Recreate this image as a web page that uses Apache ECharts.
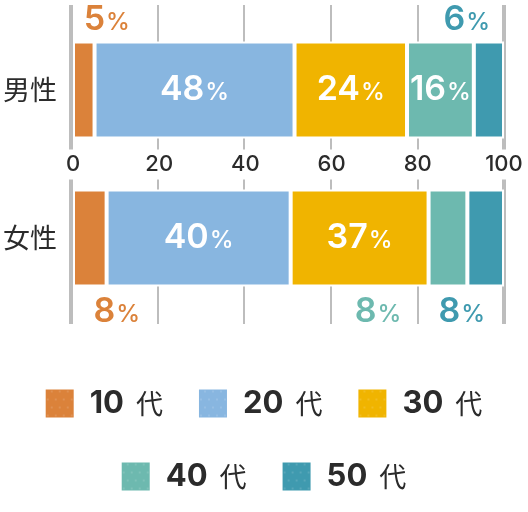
<!DOCTYPE html>
<html>
<head>
<meta charset="utf-8">
<style>
  html, body { margin: 0; padding: 0; background: #fff; }
  #main { width: 528px; height: 512px; }
</style>
<script src="https://cdn.jsdelivr.net/npm/echarts@6/dist/echarts.min.js"></script>
</head>
<body>
<div id="main"></div>
<script>
var genders = ['男性', '女性'];
var ages = ['10代', '20代', '30代', '40代', '50代'];
var colors = ['#DB823A', '#88B6E0', '#F0B400', '#6DB9AF', '#3F9AAF'];

// bar lengths as drawn in the picture
var maleShare = [5.0, 46.4, 26.1, 15.5, 7.0];
var femaleShare = [7.8, 42.7, 32.0, 9.0, 8.5];
// printed percentages
var maleLabel = ['5', '48', '24', '16', '6'];
var femaleLabel = ['8', '40', '37', '8', '8'];

var ticks = [0, 20, 40, 60, 80, 100];

var numFont = 'Inter, "Noto Sans", sans-serif';
var cjkFont = '"Noto Sans CJK JP", sans-serif';

function richOf(color) {
  return {
    n: { fontFamily: numFont, fontSize: 34, fontWeight: 600, color: color },
    p: { fontFamily: numFont, fontSize: 24, fontWeight: 500, color: color, padding: [6, 0, 0, 1] }
  };
}

// which labels are pushed outside of their bar
var outside = {
  m0: { position: 'top', offset: [23, 0], distance: 5 },
  m4: { position: 'top', offset: [-22, 0], distance: 5 },
  f0: { position: 'bottom', offset: [27, 0], distance: 8 },
  f3: { position: 'bottom', offset: [-70, 0], distance: 8 },
  f4: { position: 'bottom', offset: [-24, 0], distance: 8 }
};

function makeItem(val, text, key, i) {
  var o = outside[key];
  var lab = {
    show: true,
    formatter: '{n|' + text + '}{p|%}'
  };
  if (o) {
    lab.position = o.position;
    lab.offset = o.offset;
    lab.distance = o.distance;
    lab.rich = richOf(colors[i]);
  } else {
    lab.position = 'inside';
    lab.rich = richOf('#fff');
  }
  return { value: val, label: lab };
}

var series = ages.map(function (name, i) {
  return {
    name: name,
    type: 'bar',
    stack: 'total',
    barWidth: 97,
    xAxisIndex: 0,
    yAxisIndex: 0,
    itemStyle: { color: colors[i], borderColor: '#fff', borderWidth: 2 },
    data: [
      makeItem(maleShare[i], maleLabel[i], 'm' + i, i),
      makeItem(femaleShare[i], femaleLabel[i], 'f' + i, i)
    ]
  };
});

var legendDecal = {
  symbol: 'circle',
  symbolSize: 0.4,
  color: 'rgba(255,255,255,0.3)',
  dashArrayX: [[4, 4], [0, 4, 4, 0]],
  dashArrayY: [4, 4]
};

function legendOf(names, top) {
  return {
    data: names,
    top: top,
    left: 'center',
    icon: 'rect',
    itemWidth: 28,
    itemHeight: 28,
    itemGap: 36,
    selectedMode: false,
    itemStyle: { decal: legendDecal, borderWidth: 0 },
    formatter: function (name) {
      return '{n|' + name.replace('代', '') + '}{d|代}';
    },
    textStyle: {
      rich: {
        n: { fontFamily: numFont, fontSize: 31, fontWeight: 700, color: '#2b2b2b', padding: [0, 12, 0, 11] },
        d: { fontFamily: cjkFont, fontSize: 27, color: '#2b2b2b' }
      }
    }
  };
}

var myChart = echarts.init(document.getElementById('main'));

var option = {
  animation: false,
  grid: [
    { left: 71, right: 24, top: 16, height: 296 },
    { left: 71, right: 24, top: 5, height: 319 }
  ],
  xAxis: [
    {
      // only the tick labels between the two bars
      gridIndex: 0,
      type: 'value',
      position: 'top',
      offset: -148.5,
      min: ticks[0],
      max: ticks[ticks.length - 1],
      interval: 20,
      z: 3,
      axisLine: { show: false },
      axisTick: { show: false },
      splitLine: { show: false },
      axisLabel: {
        margin: 0,
        verticalAlign: 'middle',
        fontFamily: numFont,
        fontSize: 22,
        fontWeight: 500,
        color: '#2b2b2b',
        backgroundColor: '#fff',
        padding: [5, 2, 3, 2]
      }
    },
    {
      gridIndex: 1,
      type: 'value',
      min: 0,
      max: 100,
      interval: 20,
      axisLine: { show: false },
      axisTick: { show: false },
      axisLabel: { show: false },
      splitLine: { show: true, lineStyle: { color: '#BDBDBD', width: 2 } }
    },
    {
      gridIndex: 1,
      type: 'value',
      position: 'top',
      min: 0,
      max: 100,
      interval: 100,
      axisLine: { show: false },
      axisTick: { show: false },
      axisLabel: { show: false },
      splitLine: { show: true, lineStyle: { color: '#BDBDBD', width: 4 } }
    }
  ],
  yAxis: [
    {
      gridIndex: 0,
      type: 'category',
      data: genders,
      inverse: true,
      axisLine: { show: false },
      axisTick: { show: false },
      axisLabel: {
        margin: 16,
        fontFamily: cjkFont,
        fontSize: 27,
        color: '#2b2b2b'
      }
    },
    {
      gridIndex: 1,
      type: 'value',
      show: false
    }
  ],
  legend: [
    legendOf(ages.slice(0, 3), 383),
    legendOf(ages.slice(3), 456)
  ],
  series: series
};

myChart.setOption(option);
</script>
</body>
</html>
